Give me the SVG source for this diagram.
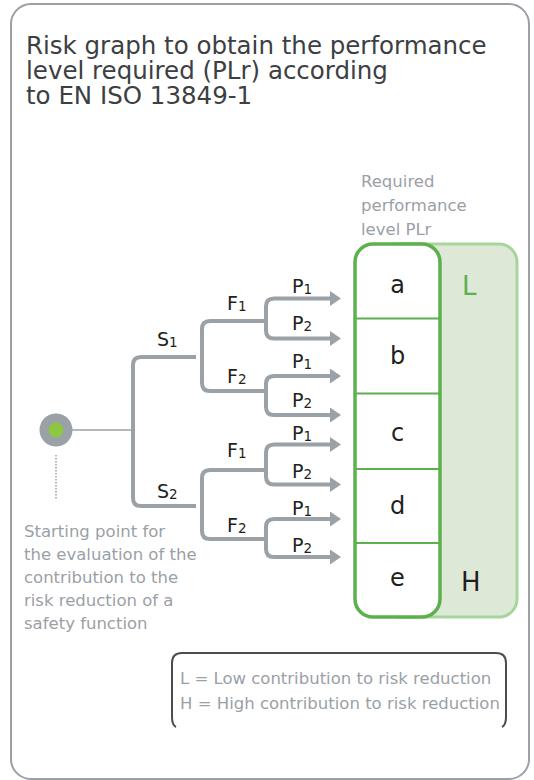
<svg xmlns="http://www.w3.org/2000/svg" width="534" height="780" viewBox="0 0 534 780">
<style>
.title{font-family:"DejaVu Sans",sans-serif;font-size:24.5px;fill:#3c4043}
.note{font-family:"DejaVu Sans",sans-serif;font-size:16.5px;fill:#9aa0a6}
.lbl{font-family:"DejaVu Sans",sans-serif;font-size:19px;fill:#231f20}
.sub{font-size:13.5px}
.lvl{font-family:"DejaVu Sans",sans-serif;font-size:24px;fill:#231f20;text-anchor:middle}
.tree{fill:none;stroke:#9aa1a7;stroke-width:4}
.div{stroke:#5cb04e;stroke-width:2}
</style>
<defs>
<marker id="ah" markerUnits="userSpaceOnUse" viewBox="0 0 11 15" markerWidth="11" markerHeight="15" refX="0" refY="7.5" orient="auto-start-reverse">
<polygon points="0,0 11,7.5 0,15" fill="#9aa1a7"/>
</marker>
</defs>
<rect id="frame" x="11" y="4" width="518" height="775" rx="20" fill="#ffffff" stroke="#9aa0a6" stroke-width="2"/>
<g id="title">
<text class="title" x="26" y="54">Risk graph to obtain the performance</text>
<text class="title" x="26" y="79">level required (PLr) according</text>
<text class="title" x="26" y="104">to EN ISO 13849-1</text>
</g>
<g id="plr-caption">
<text class="note" x="361" y="187">Required</text>
<text class="note" x="361" y="211">performance</text>
<text class="note" x="361" y="235">level PLr</text>
</g>
<g id="connectors">
<line x1="72" y1="430" x2="133" y2="430" stroke="#9aa1a7" stroke-width="1.5"/>
<line x1="56" y1="455" x2="56" y2="499" stroke="#9aa1a7" stroke-width="1.5" stroke-dasharray="1.5 1.5"/>
<path class="tree" d="M196,357 H141 Q133,357 133,365 V498 Q133,506 141,506 H196"/>
<path class="tree" d="M266,321 H210 Q202,321 202,329 V383 Q202,391 210,391 H266"/>
<path class="tree" d="M266,470 H210 Q202,470 202,478 V531 Q202,539 210,539 H266"/>
<path class="tree" marker-start="url(#ah)" marker-end="url(#ah)" d="M330,298.5 H274 Q266,298.5 266,306.5 V330.5 Q266,338.5 274,338.5 H330"/>
<path class="tree" marker-start="url(#ah)" marker-end="url(#ah)" d="M330,376 H274 Q266,376 266,384 V407 Q266,415 274,415 H330"/>
<path class="tree" marker-start="url(#ah)" marker-end="url(#ah)" d="M330,444.5 H274 Q266,444.5 266,452.5 V476.5 Q266,484.5 274,484.5 H330"/>
<path class="tree" marker-start="url(#ah)" marker-end="url(#ah)" d="M330,519 H274 Q266,519 266,527 V549 Q266,557 274,557 H330"/>
</g>
<g id="start-node">
<circle cx="56" cy="430" r="16.5" fill="#9aa1a7"/>
<circle cx="56" cy="430" r="7.5" fill="#8dc63f"/>
</g>
<g id="start-caption">
<text class="note" x="24" y="537">Starting point for</text>
<text class="note" x="24" y="560">the evaluation of the</text>
<text class="note" x="24" y="583">contribution to the</text>
<text class="note" x="24" y="606">risk reduction of a</text>
<text class="note" x="24" y="629">safety function</text>
</g>
<g id="branch-labels">
<text class="lbl" x="157" y="346">S<tspan class="sub" dy="1">1</tspan></text>
<text class="lbl" x="157" y="498">S<tspan class="sub" dy="1">2</tspan></text>
<text class="lbl" x="227" y="310">F<tspan class="sub" dy="1">1</tspan></text>
<text class="lbl" x="227" y="383">F<tspan class="sub" dy="1">2</tspan></text>
<text class="lbl" x="227" y="457">F<tspan class="sub" dy="1">1</tspan></text>
<text class="lbl" x="227" y="532">F<tspan class="sub" dy="1">2</tspan></text>
<text class="lbl" x="292" y="292.5">P<tspan class="sub" dy="1">1</tspan></text>
<text class="lbl" x="292" y="330">P<tspan class="sub" dy="1">2</tspan></text>
<text class="lbl" x="292" y="368">P<tspan class="sub" dy="1">1</tspan></text>
<text class="lbl" x="292" y="407">P<tspan class="sub" dy="1">2</tspan></text>
<text class="lbl" x="292" y="440">P<tspan class="sub" dy="1">1</tspan></text>
<text class="lbl" x="292" y="478">P<tspan class="sub" dy="1">2</tspan></text>
<text class="lbl" x="292" y="515">P<tspan class="sub" dy="1">1</tspan></text>
<text class="lbl" x="292" y="552">P<tspan class="sub" dy="1">2</tspan></text>
</g>
<g id="plr-scale">
<rect x="380" y="244" width="137" height="373" rx="18" fill="#dde9d6" stroke="#a8d59c" stroke-width="3"/>
<text x="462" y="295" font-family="DejaVu Sans, sans-serif" font-size="26" fill="#5cb04e">L</text>
<text x="461" y="591" font-family="DejaVu Sans, sans-serif" font-size="26" fill="#231f20">H</text>
</g>
<g id="plr-levels">
<rect x="355" y="244" width="85" height="373" rx="18" fill="#ffffff" stroke="#5cb04e" stroke-width="3.5"/>
<line class="div" x1="356" y1="318.5" x2="439" y2="318.5"/>
<line class="div" x1="356" y1="393.5" x2="439" y2="393.5"/>
<line class="div" x1="356" y1="469" x2="439" y2="469"/>
<line class="div" x1="356" y1="543" x2="439" y2="543"/>
<g id="level-a"><text class="lvl" x="397.5" y="293">a</text></g>
<g id="level-b"><text class="lvl" x="397.5" y="364">b</text></g>
<g id="level-c"><text class="lvl" x="397.5" y="441">c</text></g>
<g id="level-d"><text class="lvl" x="397.5" y="514">d</text></g>
<g id="level-e"><text class="lvl" x="397.5" y="586">e</text></g>
</g>
<g id="legend">
<path d="M176,727 Q172,725 172,717 V663 Q172,653 182,653 H496 Q506,653 506,663 V717 Q506,725 502,727" fill="none" stroke="#4a4d50" stroke-width="2"/>
<text class="note" x="180" y="684">L = Low contribution to risk reduction</text>
<text class="note" x="180" y="709">H = High contribution to risk reduction</text>
</g>
</svg>
